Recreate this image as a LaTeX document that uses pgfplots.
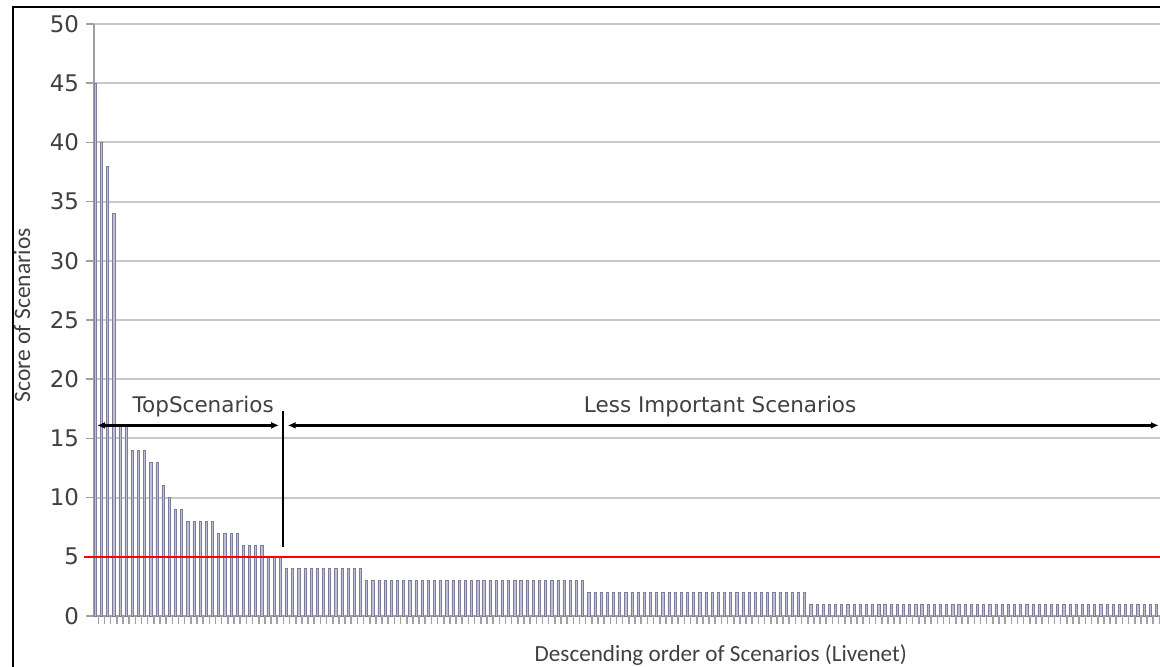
\documentclass[border=0pt]{standalone}
\usepackage{fontspec}
\setmainfont{Carlito}
\newfontfamily\dv{DejaVu Sans}
\usepackage{pgfplots}
\usepackage{pgfplotstable}
\pgfplotsset{compat=1.18}
\usetikzlibrary{arrows.meta}
\definecolor{barfill}{RGB}{190,190,215}
\definecolor{bardraw}{RGB}{125,125,155}
\definecolor{gridc}{RGB}{200,200,200}
\definecolor{axc}{RGB}{160,160,160}
\definecolor{txt}{RGB}{64,64,64}
\pgfplotstableread[row sep=\\]{
y\\
45\\40\\38\\34\\16\\16\\14\\14\\14\\13\\13\\11\\10\\9\\9\\8\\8\\8\\8\\8\\7\\7\\7\\7\\6\\6\\6\\6\\5\\5\\5\\
4\\4\\4\\4\\4\\4\\4\\4\\4\\4\\4\\4\\4\\
3\\3\\3\\3\\3\\3\\3\\3\\3\\3\\3\\3\\3\\3\\3\\3\\3\\3\\3\\3\\3\\3\\3\\3\\3\\3\\3\\3\\3\\3\\3\\3\\3\\3\\3\\3\\
2\\2\\2\\2\\2\\2\\2\\2\\2\\2\\2\\2\\2\\2\\2\\2\\2\\2\\2\\2\\2\\2\\2\\2\\2\\2\\2\\2\\2\\2\\2\\2\\2\\2\\2\\2\\
1\\1\\1\\1\\1\\1\\1\\1\\1\\1\\1\\1\\1\\1\\1\\1\\1\\1\\1\\1\\1\\1\\1\\1\\1\\1\\1\\1\\1\\1\\1\\1\\1\\1\\1\\1\\1\\1\\1\\1\\1\\1\\1\\1\\1\\1\\1\\1\\1\\1\\1\\1\\1\\1\\1\\1\\1\\
}\scores
\begin{document}
\begin{tikzpicture}
\begin{axis}[
  at={(47bp,25.5bp)}, anchor=south west,
  scale only axis, width=533bp, height=296bp,
  xmin=-0.2, xmax=172.6, ymin=0, ymax=50,
  axis lines*=left,
  axis line style={axc, line width=1bp},
  ytick={0,5,...,50},
  xtick={0.5,1.5,...,172.5}, xticklabels={},
  tick align=outside, major tick length=4bp,
  tick style={axc, line width=0.8bp},
  ymajorgrids, grid style={gridc, line width=1bp},
  /pgf/number format/assume math mode=true,
  yticklabel style={font=\dv\fontsize{11.5}{13}\selectfont, text=txt},
  ylabel={Score of Scenarios},
  ylabel style={at={(axis description cs:-0.0675,0.508)}, anchor=center, font=\fontsize{11.8}{13}\selectfont, text=txt},
  xlabel={Descending order of Scenarios (Livenet)},
  xlabel style={at={(axis description cs:0.588,-0.066)}, anchor=center, font=\fontsize{11.6}{13}\selectfont, text=txt},
  clip=false,
]
\addplot[ybar, bar width=1.1bp, bar shift=0pt, fill=barfill, draw=bardraw, line width=0.3bp]
  table[x expr=\coordindex, y=y] {\scores};
\addplot[red, line width=1.2bp, forget plot] coordinates {(-1.8,5) (172.6,5)};
\addplot[black, line width=1.4bp, {Latex[length=4bp,width=3.5bp]}-{Latex[length=4bp,width=3.5bp]}] coordinates {(0.3,16.1) (29.8,16.1)};
\addplot[black, line width=1.4bp, {Latex[length=4bp,width=3.5bp]}-{Latex[length=4bp,width=3.5bp]}] coordinates {(31.2,16.1) (172.4,16.1)};
\addplot[black, line width=1bp] coordinates {(30.5,5.8) (30.5,17.3)};
\node[font=\dv\fontsize{10.8}{12}\selectfont, text=txt] at (axis cs:17.5,17.7) {TopScenarios};
\node[font=\dv\fontsize{10.8}{12}\selectfont, text=txt] at (axis cs:101.3,17.7) {Less Important Scenarios};
\end{axis}
\draw[black, line width=1bp] (6.5bp,-20bp) rectangle (620bp,330bp);
\pgfresetboundingbox
\useasboundingbox (0,0) rectangle (580bp,333.5bp);
\end{tikzpicture}
\end{document}
